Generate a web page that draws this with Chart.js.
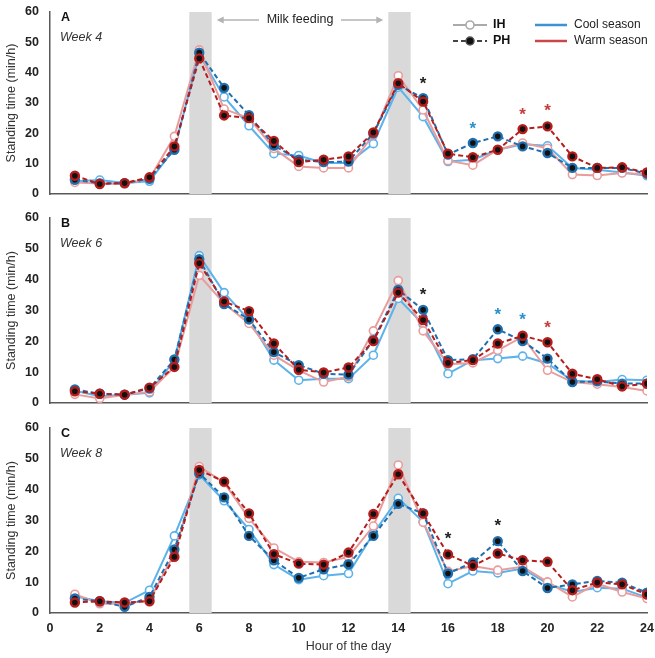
<!DOCTYPE html>
<html>
<head>
<meta charset="utf-8">
<script src="https://cdn.jsdelivr.net/npm/chart.js@4.4.1/dist/chart.umd.min.js"></script>
<style>
  html, body { margin: 0; padding: 0; background: #fff; }
  #wrap { position: relative; width: 655px; height: 658px; }
  canvas { position: absolute; left: 0; }
</style>
</head>
<body>
<div id="wrap">
  <canvas id="cA" style="top:0px"></canvas>
  <canvas id="cB" style="top:206px"></canvas>
  <canvas id="cC" style="top:412px"></canvas>
</div>
<script>
// ore del giorno
const hours = [1,2,3,4,5,6,7,8,9,10,11,12,13,14,15,16,17,18,19,20,21,22,23,24];

// settimana 4
const w4IHcool = [4.2,4.6,3.6,4.2,15,46,32,22.5,13.3,12.7,10.2,10.2,16.6,35.2,25.5,10.7,11.3,14.6,16.4,15.9,8.6,8,7.1,6];
const w4IHwarm = [3.8,3.5,3.3,5,19,47.5,28,25,15,9.1,8.6,8.6,19.5,39,27.7,11,9.5,14.6,16.8,15.1,6.4,6.1,6.9,6.4];
const w4PHcool = [4.7,3.5,3.6,5,14.6,46.6,35,26,16,11.3,10.5,10.7,20,36,31.6,13,16.8,19,15.7,13.5,8.6,8.6,8.6,6.7];
const w4PHwarm = [6,3.3,3.6,5.5,15.7,44.7,25.9,25,17.5,10.5,11.3,12.4,20.3,36.5,30.5,13.3,12.1,14.6,21.4,22.3,12.4,8.6,8.8,7.1];

// settimana 6
const w6IHcool = [4,2.2,2.7,3.3,13.9,47.8,35.8,26.9,13.9,7.4,7.9,7.9,15.5,33.9,25.5,9.5,13.9,14.4,15.2,12.8,7.2,6.8,7.6,7.4];
const w6IHwarm = [2.8,1.5,2.7,3.6,11.7,41.4,32.3,25.8,15.5,10.6,6.8,8.5,23.4,39.7,23.4,12.6,13,17.1,21.5,10.6,6.8,6.1,5.2,3.9];
const w6PHcool = [4.4,3,2.7,4.7,14.1,46.6,32.1,27.1,16.5,12.3,9.5,9.2,20.4,36.7,30.2,13.9,14.2,23.9,20.1,14.4,6.8,7,6.3,6.3];
const w6PHwarm = [3.8,3,2.7,5,11.7,45.3,32.9,29.8,19.3,10.8,9.9,11.5,20.1,35.8,26.9,13,13.9,19.3,21.8,19.7,9.5,7.7,5.4,6.3];

// settimana 8
const w8IHcool = [5.4,3.8,3.3,7.4,25,44.8,36.4,27.1,15.7,10.8,12.1,12.8,25.8,37.2,29.6,9.5,13.6,13,14.4,9.5,6.8,8.2,7.9,5];
const w8IHwarm = [6.1,3,3,4.1,19.3,47.5,42.3,30.7,21.1,16.6,16.4,18.2,28.2,48,29.4,13.5,15.2,13.9,15,10.1,5.2,9.5,6.8,4.7];
const w8PHcool = [4.7,3.8,2,5.2,20.6,45.3,37.5,25,17.1,11.4,14.2,15.8,25,35.4,32.3,12.8,16.4,23.3,13.6,8.1,9.3,10.4,9.8,6.6];
const w8PHwarm = [3.4,3.8,3.4,3.8,18.2,46.4,42.6,32.3,19.1,16,15.7,19.6,32.1,45,32.3,19,15.3,19.3,17.1,16.6,7.4,9.9,9.3,6];

// asterischi (differenze significative)
const sigAhours = [15,17,19,20];
const sigAvalues = [37.5,22.8,27.4,28.5];
const sigAgroups = ['both','cool','warm','warm'];
const sigBhours = [15,18,19,20];
const sigBvalues = [36.3,29.8,28,25.5];
const sigBgroups = ['both','cool','cool','warm'];
const sigChours = [16,18];
const sigCvalues = [25.3,29.3];
const sigCgroups = ['both','both'];

// fasce dell'allattamento
const feedingBands = [[5.6,6.5],[13.6,14.5]];

const xTicks = [0,2,4,6,8,10,12,14,16,18,20,22,24];
const yTicks = [0,10,20,30,40,50,60];

const colIHcool = '#5cb2ea';
const colIHwarm = '#e99c9c';
const colPHcool = '#1f6fae';
const colPHwarm = '#b51d1d';
const sigColors = { both: '#222222', cool: '#2b8fcc', warm: '#c43c3c' };
const FONT = '"Liberation Sans", Arial, sans-serif';

function pts(vals) {
    return hours.map((h, i) => ({ x: h, y: vals[i] }));
}

function makeSets(ihc, ihw, phc, phw) {
    const ih = (c, v, o) => ({
        data: pts(v), borderColor: c, borderWidth: 2, pointRadius: 4,
        pointBackgroundColor: '#fff', pointBorderColor: c, pointBorderWidth: 1.6,
        tension: 0, order: o
    });
    const ph = (c, v, o) => ({
        data: pts(v), borderColor: c, borderWidth: 2, borderDash: [5, 3], pointRadius: 4,
        pointBackgroundColor: '#111', pointBorderColor: c, pointBorderWidth: 2.4,
        tension: 0, order: o
    });
    return [ih(colIHcool, ihc, 3), ih(colIHwarm, ihw, 2), ph(colPHcool, phc, 1), ph(colPHwarm, phw, 0)];
}

const decor = {
    id: 'decor',
    beforeDatasetsDraw(chart, args, opts) {
        const { ctx, chartArea: a, scales: { x } } = chart;
        ctx.save();
        ctx.fillStyle = '#d9d9d9';
        feedingBands.forEach(b => {
            const x0 = x.getPixelForValue(b[0]), x1 = x.getPixelForValue(b[1]);
            ctx.fillRect(x0, a.top, x1 - x0, a.bottom - a.top);
        });
        ctx.restore();
    },
    afterDatasetsDraw(chart, args, opts) {
        const { ctx, chartArea: a, scales: { x, y } } = chart;
        ctx.save();
        // lettera e settimana
        ctx.fillStyle = '#111';
        ctx.textBaseline = 'middle';
        ctx.textAlign = 'left';
        ctx.font = 'bold 12.5px ' + FONT;
        ctx.fillText(opts.letter, a.left + 11, a.top + 6);
        ctx.font = 'italic 12.5px ' + FONT;
        ctx.fillStyle = '#333';
        ctx.fillText(opts.week, a.left + 10, a.top + 26);

        // asterischi
        ctx.font = 'bold 17px ' + FONT;
        ctx.textAlign = 'center';
        opts.sigH.forEach((h, i) => {
            ctx.fillStyle = sigColors[opts.sigG[i]];
            ctx.fillText('*', x.getPixelForValue(h), y.getPixelForValue(opts.sigV[i]) + 4);
        });

        if (opts.extras) {
            // Milk feeding
            const yy = a.top + 8;
            ctx.strokeStyle = '#b3b3b3';
            ctx.fillStyle = '#b3b3b3';
            ctx.lineWidth = 1.5;
            const l0 = x.getPixelForValue(6.7), l1 = x.getPixelForValue(8.4);
            const r0 = x.getPixelForValue(11.7), r1 = x.getPixelForValue(13.4);
            ctx.beginPath(); ctx.moveTo(l0 + 5, yy); ctx.lineTo(l1, yy); ctx.stroke();
            ctx.beginPath(); ctx.moveTo(l0, yy); ctx.lineTo(l0 + 7, yy - 3.5); ctx.lineTo(l0 + 7, yy + 3.5); ctx.fill();
            ctx.beginPath(); ctx.moveTo(r0, yy); ctx.lineTo(r1 - 5, yy); ctx.stroke();
            ctx.beginPath(); ctx.moveTo(r1, yy); ctx.lineTo(r1 - 7, yy - 3.5); ctx.lineTo(r1 - 7, yy + 3.5); ctx.fill();
            ctx.fillStyle = '#222';
            ctx.font = '12.5px ' + FONT;
            ctx.textAlign = 'center';
            ctx.fillText('Milk feeding', (l1 + r0) / 2, yy);

            // legenda
            const lx = 453, ly1 = 25, ly2 = 41;
            ctx.lineWidth = 2;
            ctx.strokeStyle = '#aaaaaa';
            ctx.beginPath(); ctx.moveTo(lx, ly1); ctx.lineTo(lx + 34, ly1); ctx.stroke();
            ctx.beginPath(); ctx.arc(lx + 17, ly1, 4, 0, Math.PI * 2);
            ctx.fillStyle = '#fff'; ctx.fill(); ctx.lineWidth = 1.6; ctx.stroke();
            ctx.strokeStyle = '#444';
            ctx.lineWidth = 2;
            ctx.setLineDash([5, 3]);
            ctx.beginPath(); ctx.moveTo(lx, ly2); ctx.lineTo(lx + 34, ly2); ctx.stroke();
            ctx.setLineDash([]);
            ctx.beginPath(); ctx.arc(lx + 17, ly2, 4, 0, Math.PI * 2);
            ctx.fillStyle = '#111'; ctx.fill(); ctx.strokeStyle = '#555'; ctx.lineWidth = 1.5; ctx.stroke();
            ctx.fillStyle = '#111';
            ctx.textAlign = 'left';
            ctx.font = 'bold 12.5px ' + FONT;
            ctx.fillText('IH', lx + 40, ly1);
            ctx.fillText('PH', lx + 40, ly2);

            ctx.lineWidth = 2.5;
            ctx.strokeStyle = '#3d93cf';
            ctx.beginPath(); ctx.moveTo(535, ly1); ctx.lineTo(567, ly1); ctx.stroke();
            ctx.strokeStyle = '#c8484a';
            ctx.beginPath(); ctx.moveTo(535, ly2); ctx.lineTo(567, ly2); ctx.stroke();
            ctx.fillStyle = '#222';
            ctx.font = '12px ' + FONT;
            ctx.fillText('Cool season', 574, ly1);
            ctx.fillText('Warm season', 574, ly2);
        }
        ctx.restore();
    }
};

function makeChart(id, w, h, sets, showX, pad, dec) {
    const el = document.getElementById(id);
    el.style.width = w + 'px';
    el.style.height = h + 'px';
    return new Chart(el, {
        type: 'line',
        data: { datasets: sets },
        plugins: [decor],
        options: {
            responsive: false,
            maintainAspectRatio: false,
            animation: false,
            layout: { padding: pad },
            plugins: { legend: { display: false }, tooltip: { enabled: false }, decor: dec },
            scales: {
                x: {
                    type: 'linear', min: 0, max: 24,
                    afterBuildTicks: s => { s.ticks = xTicks.map(v => ({ value: v })); },
                    grid: { display: false, drawTicks: false },
                    border: { display: true, color: '#595959', width: 1.5 },
                    ticks: { display: showX, padding: 8, color: '#222', font: { family: FONT, size: 12.5, weight: 'bold' } },
                    title: { display: showX, text: 'Hour of the day', color: '#333', padding: { top: 4 }, font: { family: FONT, size: 12.5 } },
                    afterFit: s => { s.height = showX ? 45 : 0; s.paddingLeft = 0; s.paddingRight = 0; }
                },
                y: {
                    min: 0, max: 60,
                    afterBuildTicks: s => { s.ticks = yTicks.map(v => ({ value: v })); },
                    grid: { display: false, drawTicks: false },
                    border: { display: true, color: '#595959', width: 1.5 },
                    ticks: { padding: 11, color: '#222', font: { family: FONT, size: 12.5, weight: 'bold' } },
                    title: { display: true, text: 'Standing time (min/h)', color: '#333', padding: { top: 4, bottom: 0 }, font: { family: FONT, size: 12.5 } },
                    afterFit: s => { s.width = 50; s.paddingTop = 0; s.paddingBottom = 0; }
                }
            }
        }
    });
}

makeChart('cA', 655, 206, makeSets(w4IHcool, w4IHwarm, w4PHcool, w4PHwarm), false,
    { top: 12, bottom: 12, right: 8, left: 0 },
    { letter: 'A', week: 'Week 4', sigH: sigAhours, sigV: sigAvalues, sigG: sigAgroups, extras: true });
makeChart('cB', 655, 206, makeSets(w6IHcool, w6IHwarm, w6PHcool, w6PHwarm), false,
    { top: 12, bottom: 9, right: 8, left: 0 },
    { letter: 'B', week: 'Week 6', sigH: sigBhours, sigV: sigBvalues, sigG: sigBgroups, extras: false });
makeChart('cC', 655, 246, makeSets(w8IHcool, w8IHwarm, w8PHcool, w8PHwarm), true,
    { top: 16, bottom: 0, right: 8, left: 0 },
    { letter: 'C', week: 'Week 8', sigH: sigChours, sigV: sigCvalues, sigG: sigCgroups, extras: false });
</script>
</body>
</html>
